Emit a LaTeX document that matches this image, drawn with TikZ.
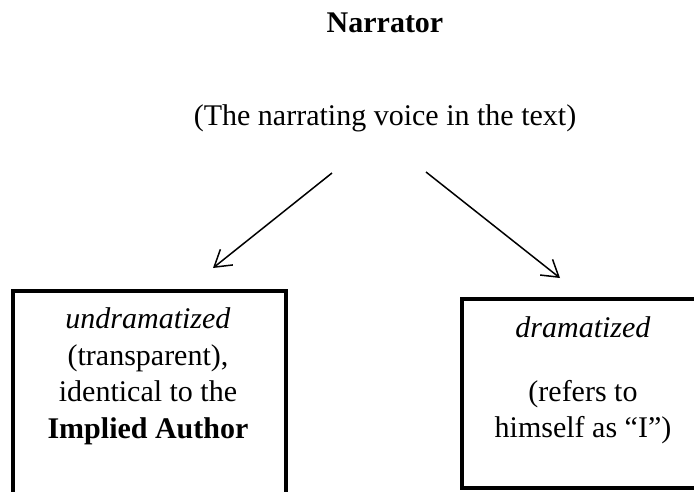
\documentclass[tikz,border=0pt]{standalone}
\usepackage{fontspec}
\setmainfont{Liberation Serif}
\usepackage{tikz}
\usetikzlibrary{positioning,arrows.meta}

\begin{document}
\begin{tikzpicture}[
    x=1pt,y=-1pt,
    txt/.style={inner sep=0pt,font=\fontsize{30}{36.5}\selectfont},
    frame/.style={rectangle,draw,line width=3.5pt,inner sep=0pt,outer sep=0pt,anchor=north west},
    arrow/.style={line width=1.5pt,-{Straight Barb[length=16pt,width=20pt,line width=1.5pt]}}
]
\useasboundingbox (0,0) rectangle (694,491);

\node[txt,anchor=base] (narrator) at (385,32) {\textbf{Narrator}};
\node[txt,anchor=base] (voice) at (385,125) {(The narrating voice in the text)};

% the two kinds of narrator
\node[frame,minimum width=273pt,minimum height=215pt] (undram) at (13,291) {};
\node[frame,minimum width=246pt,minimum height=189pt] (dram) at (462,299) {};

\node[txt,anchor=north,align=center] (undramtext) at (148,307.5)
    {\textit{undramatized}\\(transparent),\\identical to the\\\textbf{Implied Author}};
\node[txt,anchor=north,align=center] (dramtext) at (583,316.5)
    {\textit{dramatized}\\[27pt](refers to\\himself as “I”)};

\coordinate (lstart) at (332,173);
\coordinate (lend) at (213,268);
\coordinate (rstart) at (426,172);
\coordinate (rend) at (560,278);

\draw[arrow] (lstart) -- (lend);
\draw[arrow] (rstart) -- (rend);
\end{tikzpicture}
\end{document}
